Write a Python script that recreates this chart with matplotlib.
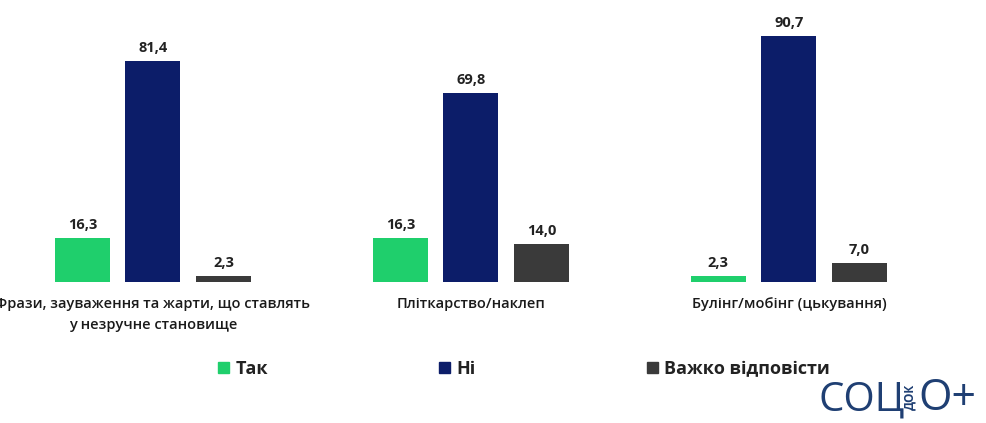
import matplotlib.pyplot as plt
from matplotlib.patches import Patch

categories = ["Фрази, зауваження та жарти, що ставлять\nу незручне становище",
              "Пліткарство/наклеп",
              "Булінг/мобінг (цькування)"]
series_names = ["Так", "Ні", "Важко відповісти"]
yes_values = [16.3, 16.3, 2.3]
no_values = [81.4, 69.8, 90.7]
hard_values = [2.3, 14.0, 7.0]

colors = ["#1fcf6c", "#0c1d69", "#3a3a3a"]
label_font = ["Open Sans", "DejaVu Sans"]

fig = plt.figure(figsize=(9.87, 4.23), dpi=100)
ax = fig.add_axes([0, 141 / 423, 1, 282 / 423])

step = 0.222
width = 0.173
for k, vals in enumerate([yes_values, no_values, hard_values]):
    xs = [i + (k - 1) * step for i in range(len(categories))]
    ax.bar(xs, vals, width=width, color=colors[k])
    for x, v in zip(xs, vals):
        ax.text(x, v + 2.2, f"{v:.1f}".replace(".", ","), ha="center", va="bottom",
                fontsize=10.5, fontweight="bold", color="#222222", family=label_font)

# first label is cut at the left edge in the original too
for i, cat in enumerate(categories):
    ax.text(i, -5.5, cat, ha="center", va="top", fontsize=10.5, fontweight="semibold",
            color="#1a1a1a", family=label_font, linespacing=1.6, clip_on=False)

ax.set_xlim(-0.481, 2.623)
ax.set_ylim(0, 103.9)
ax.axis("off")

handles = [Patch(facecolor=c, edgecolor=c) for c in colors]
leg = fig.legend(handles, series_names, loc="center", bbox_to_anchor=(0.531, 0.128),
                 ncol=3, frameon=False, handlelength=0.6, handleheight=0.6,
                 handletextpad=0.35, columnspacing=9.5,
                 prop={"family": label_font, "weight": "bold", "size": 13})
for t in leg.get_texts():
    t.set_color("#222222")

# logo
logo_color = "#1f3f73"
fig.text(0.829, 0.005, "СОЦ", fontsize=29, color=logo_color, family=label_font,
         ha="left", va="bottom")
fig.text(0.922, 0.03, "ДОК", fontsize=8.5, color=logo_color, family=label_font,
         fontweight="bold", rotation=90, ha="center", va="bottom")
fig.text(0.93, 0.005, "О+", fontsize=31, color=logo_color, family=label_font,
         ha="left", va="bottom")

fig.savefig("out.png", dpi=100)
